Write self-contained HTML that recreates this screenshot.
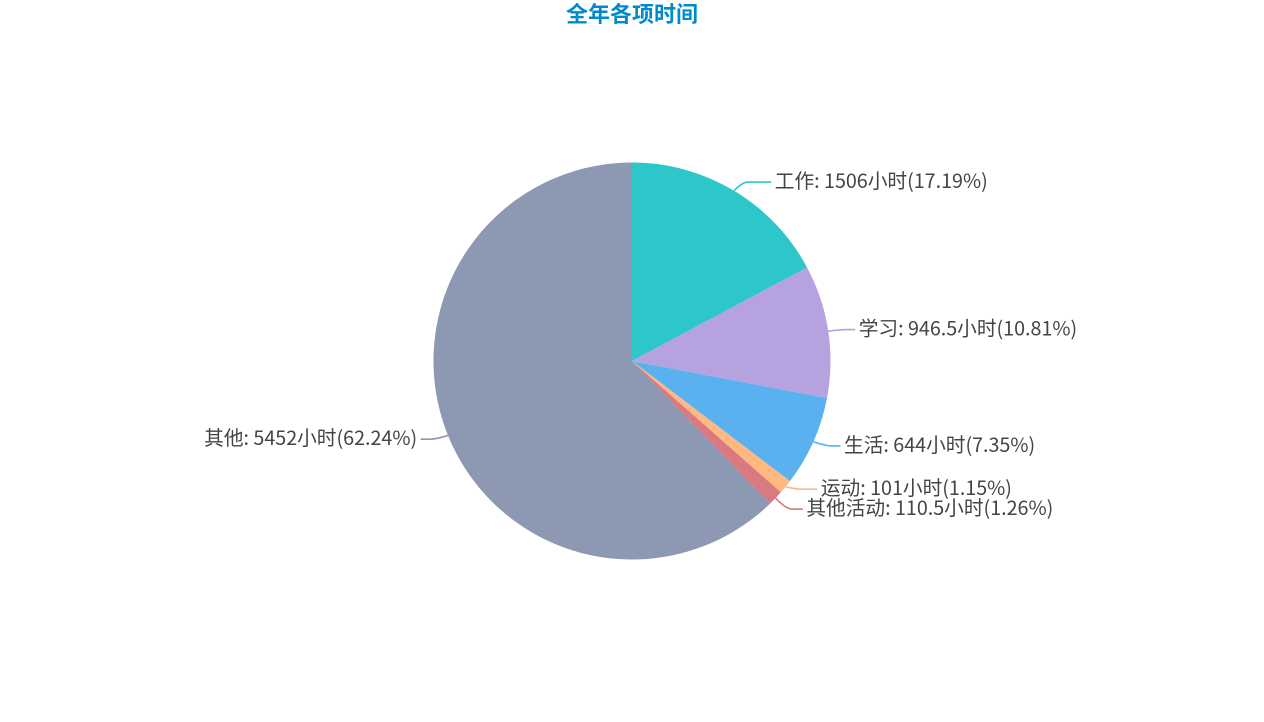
<!DOCTYPE html>
<html lang="zh-CN">
<head>
<meta charset="utf-8">
<title>全年各项时间</title>
<style>
  html, body { margin: 0; padding: 0; width: 1264px; height: 722px; background: #fff; overflow: hidden; }
  svg { display: block; font-family: "Noto Sans CJK SC", "Liberation Sans", sans-serif; }
  .title { font-size: 22px; font-weight: 700; fill: #008acd; }
  .label { font-size: 19.7px; fill: #444; }
</style>
</head>
<body>
<svg id="chart" width="1264" height="722" viewBox="0 0 1264 722" xmlns="http://www.w3.org/2000/svg">
  <text class="title" x="632" y="22" text-anchor="middle">全年各项时间</text>
  <g id="slices"></g>
  <g id="lines"></g>
  <g id="labels"></g>
</svg>
<script>
const categories = ['工作', '学习', '生活', '运动', '其他活动', '其他'];
const hours = [1506, 946.5, 644, 101, 110.5, 5452];
const printedPercents = ['17.19', '10.81', '7.35', '1.15', '1.26', '62.24'];
const sliceColors = ['#2ec7c9', '#b6a2de', '#5ab1ef', '#ffb980', '#d87a80', '#8d98b3'];

(function () {
  const NS = 'http://www.w3.org/2000/svg';
  const cx = 632, cy = 361, radius = 198.5, bendRadius = 208.6;
  // Leader styling per label: horizontal run and collision shift
  const leaderRun = [32, 17, 18, 24, 20, 18];
  const leaderShift = [0, 0, 0, -4, 4, 0];
  const total = hours.reduce(function (a, b) { return a + b; }, 0);
  const toAngle = function (v) { return v / total * Math.PI * 2; };
  const px = function (r, a) { return cx + r * Math.sin(a); };
  const py = function (r, a) { return cy - r * Math.cos(a); };
  const sliceLayer = document.getElementById('slices');
  const lineLayer = document.getElementById('lines');
  const labelLayer = document.getElementById('labels');
  let acc = 0;
  hours.forEach(function (v, i) {
    const a0 = toAngle(acc);
    const a1 = toAngle(acc + v);
    const mid = (a0 + a1) / 2;
    acc += v;

    const slice = document.createElementNS(NS, 'path');
    slice.setAttribute('d', 'M' + cx + ' ' + cy + 'L' + px(radius, a0) + ' ' + py(radius, a0) +
      'A' + radius + ' ' + radius + ' 0 ' + (a1 - a0 > Math.PI ? 1 : 0) + ' 1 ' + px(radius, a1) + ' ' + py(radius, a1) + 'Z');
    slice.setAttribute('fill', sliceColors[i]);
    
    
    sliceLayer.appendChild(slice);

    const right = Math.sin(mid) >= 0;
    const dir = right ? 1 : -1;
    const sx = px(radius, mid), sy = py(radius, mid);
    const bx = px(bendRadius, mid), by = py(bendRadius, mid) + leaderShift[i];
    const ex = bx + dir * leaderRun[i];

    const line = document.createElementNS(NS, 'path');
    line.setAttribute('d', 'M' + sx + ' ' + sy + 'Q' + (bx + dir * 3) + ' ' + by + ' ' + (bx + dir * 9) + ' ' + by + 'L' + ex + ' ' + by);
    line.setAttribute('fill', 'none');
    line.setAttribute('stroke', sliceColors[i]);
    line.setAttribute('stroke-width', '1.6');
    
    
    lineLayer.appendChild(line);

    const text = document.createElementNS(NS, 'text');
    text.setAttribute('class', 'label');
    text.setAttribute('x', ex + dir * 3.5);
    text.setAttribute('y', by + 6);
    text.setAttribute('text-anchor', right ? 'start' : 'end');
    text.textContent = categories[i] + ': ' + v + '小时(' + printedPercents[i] + '%)';
    
    
    labelLayer.appendChild(text);
  });
})();
</script>
</body>
</html>
